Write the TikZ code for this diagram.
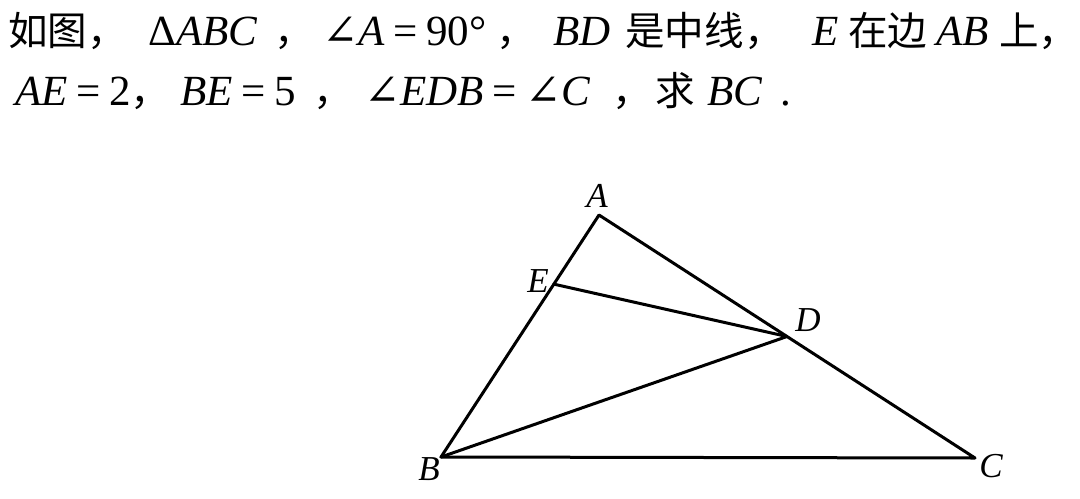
\documentclass[tikz,border=0pt]{standalone}
\usepackage{fontspec}
\setmainfont{Liberation Serif}
\newfontfamily\cjk[Scale=0.92]{Noto Sans CJK SC}
\newfontfamily\symfont{DejaVu Serif}
\usetikzlibrary{calc}
\newcommand{\zh}[1]{{\cjk #1}}
\newcommand{\ang}{{\symfont\char"2220}}
\newcommand{\eq}{\hspace{0.2em}=\hspace{0.2em}}
\tikzset{
  txt/.style={anchor=base west, inner sep=0pt, font=\fontsize{21.5}{26}\selectfont},
  vlabel/.style={inner sep=0pt, font=\fontsize{17.5}{21}\selectfont\itshape},
  side/.style={line width=1.5pt, line join=round, line cap=round}
}
\begin{document}
\begin{tikzpicture}[x=0.5pt, y=-0.5pt]
\useasboundingbox (0,0) rectangle (1080,498);
% question text
\node[txt] (q1)  at (8,45)    {\zh{如图，}};
\node[txt] (q2)  at (148,45)  {Δ\textit{ABC}};
\node[txt] (q3)  at (274,45)  {\zh{，}};
\node[txt] (q4)  at (322,45)  {\ang\textit{A}\eq 90°};
\node[txt] (q5)  at (496,45)  {\zh{，}};
\node[txt] (q6)  at (553,45)  {\textit{BD}};
\node[txt] (q7)  at (625,45)  {\zh{是中线，}};
\node[txt] (q8)  at (812,45)  {\textit{E}};
\node[txt] (q9)  at (848,45)  {\zh{在边}};
\node[txt] (q10) at (936,45)  {\textit{AB}};
\node[txt] (q11) at (999,45)  {\zh{上，}};
\node[txt] (r1)  at (15,105)  {\textit{AE}\eq 2\zh{，}};
\node[txt] (r2)  at (180,105) {\textit{BE}\eq 5};
\node[txt] (r3)  at (313,105) {\zh{，}};
\node[txt] (r4)  at (364,105) {\ang\textit{EDB}\eq\ang\textit{C}};
\node[txt] (r5)  at (612,105) {\zh{，}};
\node[txt] (r6)  at (655,105) {\zh{求}};
\node[txt] (r7)  at (707,105) {\textit{BC}};
\node[txt] (r8)  at (780,105) {.};

% triangle
\coordinate (A) at (599,215);
\coordinate (B) at (441,457);
\coordinate (C) at (975,458);
\coordinate (D) at ($(A)!0.5!(C)$);
\coordinate (E) at ($(A)!2/7!(B)$);

\draw[side] (A) -- (B) -- (C) -- cycle;
\draw[side] (E) -- (D) -- (B);

\node[vlabel] (la) at (597,196) {A};
\node[vlabel] (le) at (538,281) {E};
\node[vlabel] (ld) at (808,320) {D};
\node[vlabel] (lb) at (429,469) {B};
\node[vlabel] (lc) at (991,466) {C};
\end{tikzpicture}
\end{document}
